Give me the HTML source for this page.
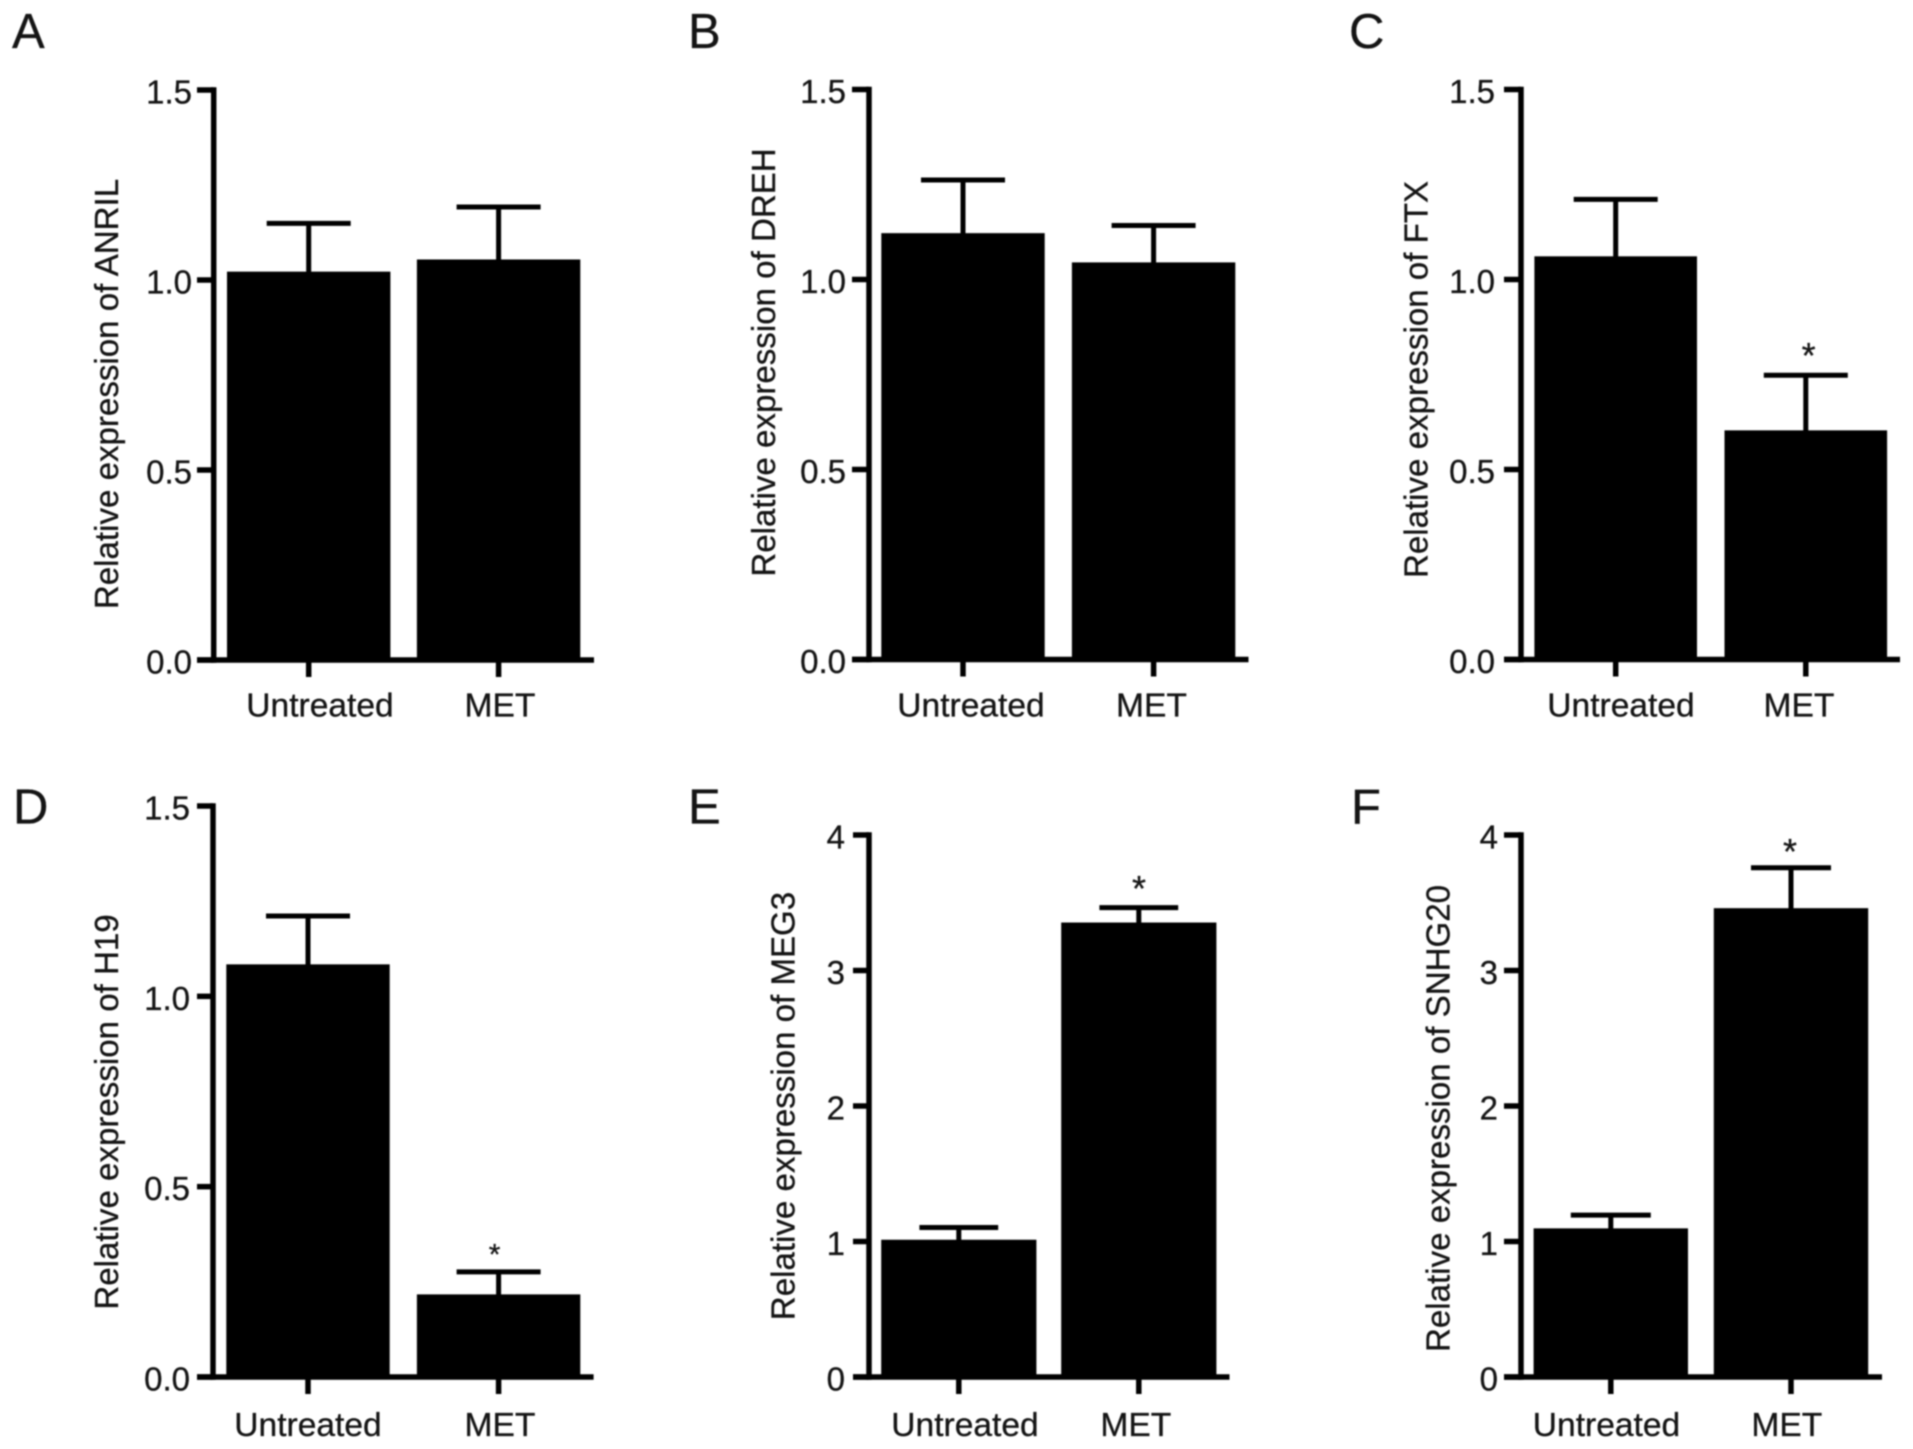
<!DOCTYPE html>
<html lang="en">
<head>
<meta charset="utf-8">
<title>Relative expression of lncRNAs, untreated vs MET</title>
<style>
  html, body { margin: 0; padding: 0; background: #fff; }
  body { width: 1913px; height: 1449px; overflow: hidden; }
  svg { display: block; filter: blur(0.7px); }
  text { font-family: "Liberation Sans", sans-serif; fill: #141414; stroke: #141414; stroke-width: 0.3px; }
</style>
</head>
<body>
<svg id="figure" xmlns="http://www.w3.org/2000/svg" width="1913" height="1449" viewBox="0 0 1913 1449"></svg>
<script>
// ---- Data ----
const panelLetters = ['A', 'B', 'C', 'D', 'E', 'F'];
const genes = ['ANRIL', 'DREH', 'FTX', 'H19', 'MEG3', 'SNHG20'];
const categories = ['Untreated', 'MET'];
const means = [
  [1.022, 1.054],
  [1.122, 1.045],
  [1.061, 0.603],
  [1.084, 0.217],
  [1.013, 3.354],
  [1.097, 3.46]
];
const errors = [
  [0.127, 0.138],
  [0.14, 0.097],
  [0.15, 0.145],
  [0.127, 0.059],
  [0.09, 0.11],
  [0.098, 0.298]
];
const significant = [
  [false, false],
  [false, false],
  [false, true],
  [false, true],
  [false, true],
  [false, true]
];
const tickLabelsDecimal = ['0.0', '0.5', '1.0', '1.5'];
const tickLabelsInteger = ['0', '1', '2', '3', '4'];
const tickLabelSets = [
  tickLabelsDecimal, tickLabelsDecimal, tickLabelsDecimal,
  tickLabelsDecimal, tickLabelsInteger, tickLabelsInteger
];

// ---- Panel geometry (layout only, no data) ----
const layout = [
  { lx: 12, ly: 48, axis: 213.7, top: 90, base: 660, left: 197, right: 594, bars: [308.7, 498.6], hw: 81.7, cap: 42, labelR: 192, catX: [320, 500], catY: 716.5, titleX: 118, titleY: 394, star: [] },
  { lx: 688, ly: 48, axis: 869, top: 89.5, base: 659.5, left: 852, right: 1248.5, bars: [963, 1153.6], hw: 81.7, cap: 42, labelR: 846, catX: [971, 1151.5], catY: 716.5, titleX: 775, titleY: 362.5, star: [] },
  { lx: 1349, ly: 48, axis: 1521, top: 89.5, base: 659.5, left: 1504, right: 1900, bars: [1615.7, 1805.8], hw: 81.3, cap: 42, labelR: 1495, catX: [1621, 1799], catY: 716.5, titleX: 1427.5, titleY: 379.5, star: [0, 1808.6, 347, 36] },
  { lx: 13, ly: 823.5, axis: 213, top: 806, base: 1377, left: 197, right: 593.6, bars: [308, 498.6], hw: 81.7, cap: 42, labelR: 190, catX: [308, 500], catY: 1436, titleX: 118, titleY: 1112, star: [0, 494.6, 1247, 30] },
  { lx: 688, ly: 823.5, axis: 869, top: 835, base: 1377, left: 853, right: 1229.5, bars: [958.8, 1138.8], hw: 77.6, cap: 39.4, labelR: 845, catX: [965, 1135.8], catY: 1436, titleX: 794.5, titleY: 1106, star: [0, 1139, 880, 36] },
  { lx: 1351, ly: 823.5, axis: 1521, top: 835, base: 1377, left: 1504, right: 1882, bars: [1610.8, 1791], hw: 77.2, cap: 40, labelR: 1498, catX: [1606.5, 1786.8], catY: 1436, titleX: 1449.5, titleY: 1118.5, star: [0, 1790, 843, 36] }
];

const SVG_NS = 'http://www.w3.org/2000/svg';
const figure = document.getElementById('figure');

function draw(tag, attrs, parent, name, content) {
  const el = document.createElementNS(SVG_NS, tag);
  for (const key in attrs) el.setAttribute(key, attrs[key]);
  
  
  if (content !== undefined) el.textContent = content;
  parent.appendChild(el);
  return el;
}

function line(parent, name, x1, y1, x2, y2, width) {
  return draw('line', { x1: x1, y1: y1, x2: x2, y2: y2, stroke: '#000', 'stroke-width': width }, parent, name);
}

layout.forEach(function (g, p) {
  const gene = genes[p].toLowerCase();
  const panel = draw('g', {}, figure, 'panel-' + panelLetters[p].toLowerCase());
  const labels = tickLabelSets[p];
  const axisMax = Number(labels[labels.length - 1]);

  // y axis scale: value -> pixel
  const yScale = function (v) { return g.base - (v / axisMax) * (g.base - g.top); };

  draw('text', { x: g.lx, y: g.ly, 'font-size': 49 }, panel, 'panel-letter', panelLetters[p]);

  // bars and error bars
  categories.forEach(function (cat, i) {
    const cx = g.bars[i];
    const yTop = yScale(means[p][i]);
    const yErr = yScale(means[p][i] + errors[p][i]);
    const slug = gene + '-' + cat.toLowerCase();
    line(panel, 'error-stem-' + slug, cx, yErr, cx, yTop + 2, 5);
    line(panel, 'error-cap-' + slug, cx - g.cap, yErr, cx + g.cap, yErr, 5);
    draw('rect', { x: cx - g.hw, y: yTop, width: g.hw * 2, height: g.base - yTop, fill: '#000' }, panel, 'bar-' + slug);
    line(panel, 'x-tick-' + cat.toLowerCase(), cx, g.base, cx, g.base + 17, 5.5);
    draw('text', { x: g.catX[i], y: g.catY, 'font-size': 33.6, 'text-anchor': 'middle' }, panel, 'x-label-' + cat.toLowerCase(), cat);
  });

  // axes
  line(panel, 'y-axis-line', g.axis, g.top - 2.75, g.axis, g.base + 2.75, 5.5);
  line(panel, 'x-axis-line', g.left, g.base, g.right, g.base, 5.5);

  // y ticks and labels
  labels.forEach(function (label) {
    const y = yScale(Number(label));
    line(panel, 'y-tick-' + label, g.left, y, g.axis, y, 5.5);
    draw('text', { x: g.labelR, y: y + 13.5, 'font-size': 33, 'text-anchor': 'end' }, panel, 'y-tick-label-' + label, label);
  });

  // y axis title
  draw('text', {
    transform: 'translate(' + g.titleX + ',' + g.titleY + ') rotate(-90)',
    'font-size': 33.1,
    'text-anchor': 'middle'
  }, panel, 'y-axis-title', 'Relative expression of ' + genes[p]);

  // significance marker
  categories.forEach(function (cat, i) {
    if (significant[p][i]) {
      draw('text', {
        x: g.star[1],
        y: g.star[2] + g.star[3] * 0.58,
        'font-size': g.star[3],
        'text-anchor': 'middle'
      }, panel, 'significance-asterisk', '*');
    }
  });
});
</script>
</body>
</html>
